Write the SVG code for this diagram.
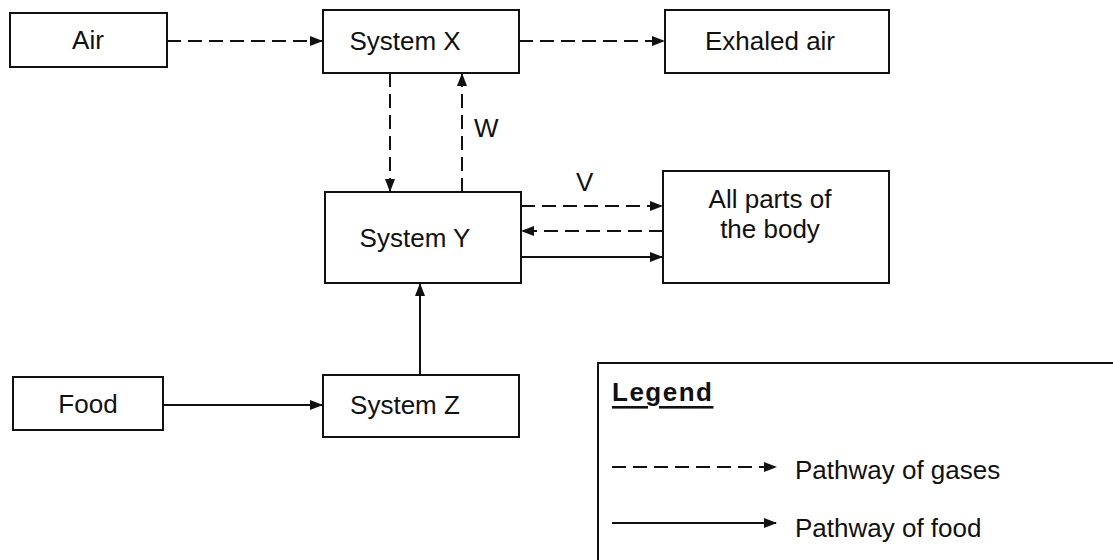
<svg xmlns="http://www.w3.org/2000/svg" width="1113" height="560" viewBox="0 0 1113 560">
<style>
.box{fill:#fff;stroke:#111;stroke-width:2}
.t{font-family:"Liberation Sans",Arial,sans-serif;font-size:26px;fill:#111;text-anchor:middle;dominant-baseline:central}
.tl{font-family:"Liberation Sans",Arial,sans-serif;font-size:26px;fill:#111;dominant-baseline:central}
.gas{stroke:#111;stroke-width:2;fill:none;stroke-dasharray:14 7;marker-end:url(#ah)}
.food{stroke:#111;stroke-width:2;fill:none;marker-end:url(#ah)}
</style>
<defs>
<marker id="ah" viewBox="0 0 13 10" refX="12" refY="5" markerWidth="13" markerHeight="10" markerUnits="userSpaceOnUse" orient="auto">
<path d="M0,0 L13,5 L0,10 z" fill="#111"/>
</marker>
</defs>
<rect width="1113" height="560" fill="#fff"/>
<g id="connectors">
<line class="gas" x1="167" y1="41" x2="322" y2="41"/>
<line class="gas" x1="519" y1="41" x2="664" y2="41"/>
<line class="gas" x1="390" y1="73" x2="390" y2="191"/>
<line class="gas" x1="462" y1="192" x2="462" y2="74"/>
<line class="gas" x1="521" y1="206" x2="662" y2="206"/>
<line class="gas" x1="663" y1="231" x2="522" y2="231"/>
<line class="food" x1="521" y1="257" x2="662" y2="257"/>
<line class="food" x1="420" y1="375" x2="420" y2="284"/>
<line class="food" x1="163" y1="405" x2="322" y2="405"/>
<text class="tl" x="474" y="128">W</text>
<text class="tl" x="576" y="182">V</text>
</g>
<g id="air"><rect class="box" x="10" y="13" width="157" height="54"/><text class="t" x="88" y="40">Air</text></g>
<g id="systemX"><rect class="box" x="323" y="10" width="196" height="63"/><text class="t" x="405" y="41">System X</text></g>
<g id="exhaled"><rect class="box" x="665" y="10" width="224" height="63"/><text class="t" x="770" y="41">Exhaled air</text></g>
<g id="systemY"><rect class="box" x="325" y="192" width="196" height="91"/><text class="t" x="415" y="238">System Y</text></g>
<g id="body"><rect class="box" x="663" y="171" width="226" height="112"/><text class="t" x="770" y="199">All parts of</text><text class="t" x="770" y="229">the body</text></g>
<g id="food"><rect class="box" x="13" y="377" width="150" height="53"/><text class="t" x="88" y="404">Food</text></g>
<g id="systemZ"><rect class="box" x="323" y="375" width="196" height="62"/><text class="t" x="405" y="405">System Z</text></g>
<g id="legend">
<rect class="box" x="598" y="363" width="530" height="210"/>
<text class="tl" x="612" y="392" font-size="27" font-weight="bold" letter-spacing="1.5" text-decoration="underline">Legend</text>
<line class="gas" x1="612" y1="467" x2="776" y2="467"/>
<text class="tl" x="795" y="470">Pathway of gases</text>
<line class="food" x1="612" y1="523" x2="776" y2="523"/>
<text class="tl" x="795" y="528">Pathway of food</text>
</g>
</svg>
